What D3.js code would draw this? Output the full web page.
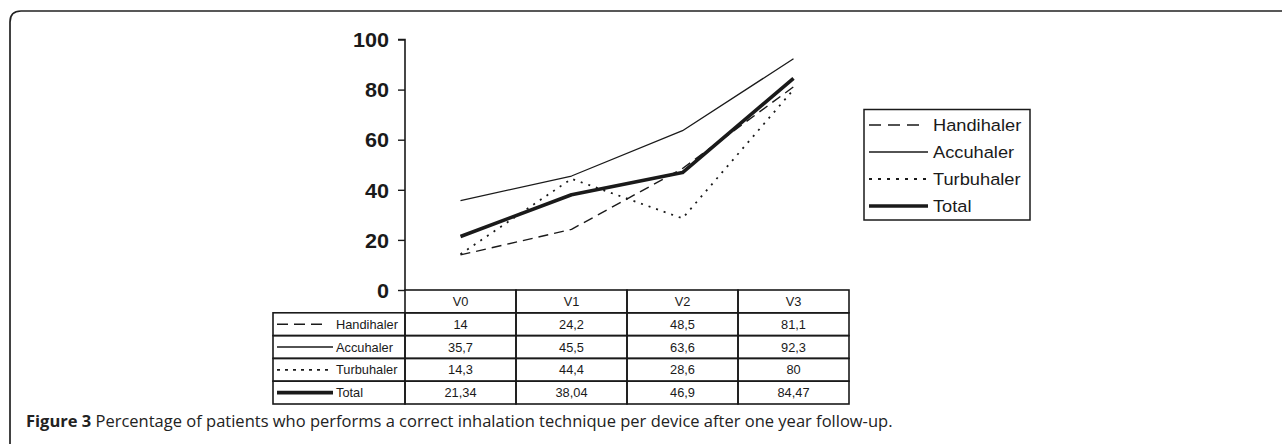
<!DOCTYPE html>
<html><head><meta charset="utf-8">
<script src="https://cdn.jsdelivr.net/npm/d3@7"></script>
<style>body{margin:0;background:#fff}svg{display:block}</style>
</head><body>
<svg id="c" width="1282" height="444"></svg>
<script>
const categories = ["V0","V1","V2","V3"];
const seriesNames = ["Handihaler","Accuhaler","Turbuhaler","Total"];
const handihaler = [14, 24.2, 48.5, 81.1];
const accuhaler = [35.7, 45.5, 63.6, 92.3];
const turbuhaler = [14.3, 44.4, 28.6, 80];
const total = [21.34, 38.04, 46.9, 84.47];
const tableLabels = {
  Handihaler: ["14","24,2","48,5","81,1"],
  Accuhaler: ["35,7","45,5","63,6","92,3"],
  Turbuhaler: ["14,3","44,4","28,6","80"],
  Total: ["21,34","38,04","46,9","84,47"]
};
const yTicks = [0,20,40,60,80,100];
const captionBold = "Figure 3";
const captionRest = " Percentage of patients who performs a correct inhalation technique per device after one year follow-up.";

const seriesVals = {Handihaler: handihaler, Accuhaler: accuhaler, Turbuhaler: turbuhaler, Total: total};
const styles = {
  Handihaler: {w:1.4, dash:"10,6"},
  Accuhaler: {w:1.3, dash:null},
  Turbuhaler: {w:1.8, dash:"2,6"},
  Total: {w:3.6, dash:null}
};

const svg = d3.select("#c");
const ink = "#1a1a1a";

// frame
svg.append("path")
  .attr("d","M10,460 L10,22 Q10,11 21,11 L1290,11")
  .attr("fill","none").attr("stroke","#222").attr("stroke-width",1.7);

const x = d3.scaleBand().domain(categories).range([405,849]);
const y = d3.scaleLinear().domain([0,100]).range([290,39.5]);

// y axis
const yAxis = d3.axisLeft(y).tickValues(yTicks).tickSize(7).tickPadding(9).tickFormat(d3.format("d"));
const ga = svg.append("g").attr("transform","translate(405,0)").call(yAxis);
ga.select(".domain").attr("stroke",ink).attr("stroke-width",1.6).attr("d","M-7,39.5H0V290");
ga.selectAll(".tick line").attr("stroke",ink).attr("stroke-width",1.4);
ga.selectAll(".tick text")
  .attr("font-family","Liberation Sans, Arial, sans-serif")
  .attr("font-weight","bold").attr("font-size",20).attr("fill",ink)
  .each(function(){
    const t=d3.select(this); const xx=+t.attr("x");
    t.attr("x",null).attr("dy","0.36em").attr("transform",`translate(${xx},0) scale(1.08,1)`);
  });

// lines
const line = d3.line().x((d,i)=>x(categories[i])+x.bandwidth()/2).y(d=>y(d));
const order = ["Accuhaler","Turbuhaler","Handihaler","Total"];
order.forEach(name=>{
  svg.append("path").datum(seriesVals[name])
    .attr("d",line).attr("fill","none").attr("stroke",ink)
    .attr("stroke-width",styles[name].w)
    .attr("stroke-dasharray",styles[name].dash)
    .attr("stroke-linejoin","round");
});

// table
const rowKeys = ["header"].concat(seriesNames);
const rows = d3.scaleBand().domain(rowKeys).range([290,404]);
const rh = rows.bandwidth();
const tbl = svg.append("g");
const tf = "Liberation Sans, Arial, sans-serif";
const tfs = 12.2, tsx = 1.05;
categories.forEach(c=>{
  tbl.append("rect").attr("x",x(c)).attr("y",rows("header")).attr("width",x.bandwidth()).attr("height",rh)
    .attr("fill","none").attr("stroke",ink).attr("stroke-width",1.6);
  tbl.append("text").attr("transform",`translate(${x(c)+x.bandwidth()/2},${rows("header")+rh/2+4.6}) scale(${tsx},1)`)
    .attr("text-anchor","middle").attr("font-family",tf).attr("font-size",tfs).attr("fill",ink).text(c);
});
seriesNames.forEach(s=>{
  const ry = rows(s);
  tbl.append("rect").attr("x",273).attr("y",ry).attr("width",405-273).attr("height",rh)
    .attr("fill","none").attr("stroke",ink).attr("stroke-width",1.6);
  const kx2 = s==="Handihaler" ? 327 : 333;
  tbl.append("line").attr("x1",277).attr("x2",kx2).attr("y1",ry+rh/2).attr("y2",ry+rh/2)
    .attr("stroke",ink).attr("stroke-width",styles[s].w).attr("stroke-dasharray", s==="Handihaler"?"11,6":(s==="Turbuhaler"?"3,5":styles[s].dash));
  tbl.append("text").attr("transform",`translate(336,${ry+rh/2+4.6}) scale(${tsx},1)`)
    .attr("font-family",tf).attr("font-size",tfs).attr("fill",ink).text(s);
  categories.forEach((c,i)=>{
    tbl.append("rect").attr("x",x(c)).attr("y",ry).attr("width",x.bandwidth()).attr("height",rh)
      .attr("fill","none").attr("stroke",ink).attr("stroke-width",1.6);
    tbl.append("text").attr("transform",`translate(${x(c)+x.bandwidth()/2},${ry+rh/2+4.6}) scale(${tsx},1)`)
      .attr("text-anchor","middle").attr("font-family",tf).attr("font-size",tfs).attr("fill",ink).text(tableLabels[s][i]);
  });
});

// legend
const lg = svg.append("g");
lg.append("rect").attr("x",864).attr("y",109.5).attr("width",166).attr("height",110.5)
  .attr("fill","#fff").attr("stroke",ink).attr("stroke-width",1.5);
const ly = d3.scalePoint().domain(seriesNames).range([125,206]);
seriesNames.forEach(s=>{
  const kx2 = s==="Handihaler" ? 922 : 928;
  lg.append("line").attr("x1",869).attr("x2",kx2).attr("y1",ly(s)).attr("y2",ly(s))
    .attr("stroke",ink).attr("stroke-width",styles[s].w).attr("stroke-dasharray", s==="Handihaler"?"12,7":(s==="Turbuhaler"?"3,6":styles[s].dash));
  lg.append("text").attr("transform",`translate(933,${ly(s)+6}) scale(1.12,1)`)
    .attr("font-family",tf).attr("font-size",16.3).attr("fill",ink).text(s);
});

// caption
const cap = svg.append("text").attr("x",26).attr("y",427)
  .attr("font-family","Open Sans, Noto Sans, sans-serif").attr("font-size",16.5).attr("fill","#222");
cap.append("tspan").attr("font-weight","bold").text(captionBold);
cap.append("tspan").text(captionRest);
</script>
</body></html>
